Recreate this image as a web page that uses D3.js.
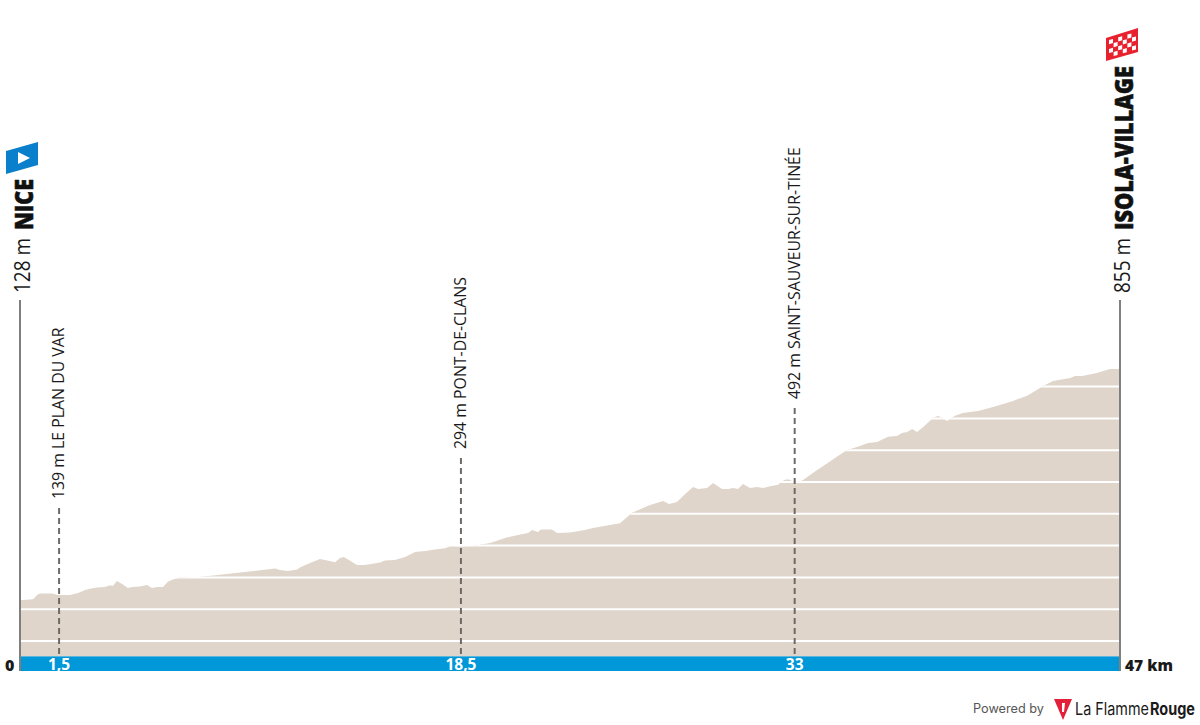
<!DOCTYPE html>
<html>
<head>
	<meta charset="UTF-8">
	<title>Nice - Isola-Village</title>
	<script src="https://cdn.jsdelivr.net/npm/d3@7"></script>
	<style>
		html, body { margin: 0; padding: 0; background: #fff; }
		svg { display: block; }
		text { font-family: "Open Sans", sans-serif; }
	</style>
</head>
<body>
	<script type="text/javascript">
		// profile
		var km = [0, .56, .73, .85, 1.37, 1.62, 2.14, 2.48, 2.78, 2.99, 3.29, 3.63, 3.85, 3.97, 4.14, 4.36, 4.61, 4.79, 5.13, 5.43, 5.64, 5.85, 6.11, 6.32, 6.5, 6.84, 7.35, 7.69,
			10.9, 11.11, 11.45, 11.84, 11.96, 12.39, 12.82, 13.03, 13.46, 13.67, 13.84, 14.1, 14.4, 14.74, 15.38, 15.6, 16.02, 16.45, 16.88, 17.31, 17.73, 18.16, 18.42, 18.8,
			19.36, 19.66, 20.08, 20.38, 20.72, 21.37, 21.71, 21.88, 22.13, 22.26, 22.73, 22.95, 23.5, 24.14, 24.48, 24.78, 25.64, 26.15, 26.92, 27.48, 27.73, 28.07, 28.42, 28.76,
			28.97, 29.36, 29.61, 30, 30.25, 30.47, 30.68, 30.89, 31.19, 31.49, 31.75, 32.05, 32.39, 32.65, 32.82, 32.99, 33.24, 33.46, 34.06, 34.7, 34.95, 35.34, 35.76, 36.24,
			36.62, 37.09, 37.47, 37.69, 37.9, 38.12, 38.33, 38.59, 39.01, 39.23, 39.61, 39.95, 40.29, 40.93, 41.58, 42.43, 43.03, 43.8, 44.14, 44.87, 45.08, 45.38, 46.02, 46.57, 47];
		var elevation = [128, 131, 145, 149, 149, 145, 145, 151, 160, 164, 168, 170, 175, 173, 189, 179, 167, 170, 171, 176, 167, 170, 170, 186, 193, 200, 201, 201,
			228, 223, 220, 225, 231, 245, 258, 255, 248, 261, 264, 252, 239, 239, 247, 253, 255, 264, 280, 283, 288, 292, 299, 296,
			299, 303, 308, 315, 324, 335, 340, 349, 343, 351, 351, 340, 341, 349, 355, 359, 370, 403, 428, 440, 431, 437, 462, 484,
			478, 481, 497, 478, 478, 481, 478, 494, 481, 484, 481, 487, 491, 506, 509, 503, 500, 506, 538, 569, 582, 601, 610, 623,
			626, 642, 645, 654, 657, 667, 657, 673, 701, 708, 692, 708, 717, 723, 736, 755, 771, 805, 818, 827, 833, 833, 843, 855, 855];

		var gridLevels = [0, 100, 200, 300, 400, 500, 600, 700, 800];

		// intermediate places: where the mark sits, what the band says, what the label says
		var placeKm = [1.67, 18.84, 33.1];
		var placeTicks = ["1,5", "18,5", "33"];
		var placeNames = ["139 m LE PLAN DU VAR", "294 m PONT-DE-CLANS", "492 m SAINT-SAUVEUR-SUR-TINÉE"];

		var startLabel = ["128 m", "NICE"];
		var finishLabel = ["855 m", "ISOLA-VILLAGE"];

		var W = 1200, H = 725;
		var floorY = 656, bandBottom = 671, axisTop = 300;

		var x = d3.scaleLinear().domain([0, 47]).range([20, 1120]);
		var y = d3.scaleLinear().domain([0, 800]).range([641, 386.6]);

		var canvas = d3.select("body")
			.append("svg")
			.attr("width", W)
			.attr("height", H);

		var profile = d3.area()
			.x(function (d) { return x(d); })
			.y0(floorY)
			.y1(function (d, i) { return y(elevation[i]); });

		// terrain
		canvas.append("path")
			.datum(km)
			.attr("d", profile)
			.attr("fill", "#dfd5cb");

		// gridlines only show inside the terrain
		canvas.append("clipPath")
			.attr("id", "terrain")
			.append("path")
			.datum(km)
			.attr("d", profile);

		canvas.append("g")
			.attr("clip-path", "url(#terrain)")
			.selectAll("line")
			.data(gridLevels)
			.enter().append("line")
			.attr("x1", x(0))
			.attr("x2", x(47))
			.attr("y1", function (d) { return y(d); })
			.attr("y2", function (d) { return y(d); })
			.attr("stroke", "#fff")
			.attr("stroke-width", 2);

		// km band
		canvas.append("rect")
			.attr("x", x(0))
			.attr("y", floorY)
			.attr("width", x(47) - x(0))
			.attr("height", bandBottom - floorY)
			.attr("fill", "#0098d8");
		canvas.append("line")
			.attr("x1", x(0)).attr("x2", x(47))
			.attr("y1", floorY + .5).attr("y2", floorY + .5)
			.attr("stroke", "#5cb6dc");

		// start and finish posts
		canvas.selectAll(".post")
			.data([0, 47])
			.enter().append("line")
			.attr("class", "post")
			.attr("x1", function (d) { return x(d); })
			.attr("x2", function (d) { return x(d); })
			.attr("y1", axisTop)
			.attr("y2", bandBottom)
			.attr("stroke", "#7f7f7f")
			.attr("stroke-width", 2);

		// dashed place marks
		var markTops = [508, 458, 408];
		canvas.selectAll(".mark")
			.data(placeKm)
			.enter().append("line")
			.attr("class", "mark")
			.attr("x1", function (d) { return x(d); })
			.attr("x2", function (d) { return x(d); })
			.attr("y1", function (d, i) { return markTops[i]; })
			.attr("y2", floorY)
			.attr("stroke", "#6f6a66")
			.attr("stroke-width", 2)
			.attr("stroke-dasharray", "6 4");

		canvas.selectAll(".place")
			.data(placeNames)
			.enter().append("text")
			.attr("class", "place")
			.attr("transform", function (d, i) { return "translate(" + (x(placeKm[i]) + 5) + "," + (markTops[i] - 9) + ") rotate(-90)"; })
			.attr("font-size", 15.85)
			.attr("fill", "#1a1a1a")
			.text(function (d) { return d; });

		// band labels
		canvas.selectAll(".tick")
			.data(placeTicks)
			.enter().append("text")
			.attr("class", "tick")
			.attr("x", function (d, i) { return x(placeKm[i]); })
			.attr("y", 669.5)
			.attr("text-anchor", "middle")
			.attr("font-size", 15.5)
			.attr("font-weight", 700)
			.attr("fill", "#fff")
			.text(function (d) { return d; });

		canvas.append("text")
			.attr("x", 5).attr("y", 671)
			.attr("font-size", 16).attr("font-weight", 800).attr("fill", "#1a1a1a")
			.text("0");
		canvas.append("text")
			.attr("x", 1125).attr("y", 671)
			.attr("font-size", 15.5).attr("font-weight", 800).attr("fill", "#1a1a1a")
			.text("47 km");

		// start and finish labels
		function endLabel(km, parts, nameLength) {
			canvas.append("text")
				.attr("transform", "translate(" + (x(km) + 10) + ",293) rotate(-90)")
				.attr("font-size", 21.5)
				.attr("textLength", 55)
				.attr("lengthAdjust", "spacingAndGlyphs")
				.attr("fill", "#1a1a1a")
				.text(parts[0]);
			canvas.append("text")
				.attr("transform", "translate(" + (x(km) + 13) + ",230) rotate(-90)")
				.attr("font-size", 24)
				.attr("font-weight", 800)
				.attr("textLength", nameLength)
				.attr("lengthAdjust", "spacingAndGlyphs")
				.attr("fill", "#111")
				.attr("stroke", "#111")
				.attr("stroke-width", .6)
				.text(parts[1]);
		}
		endLabel(0, startLabel, 51);
		endLabel(47, finishLabel, 164);

		// start flag
		canvas.append("polygon")
			.attr("points", "6,151 38,142 38,165 6,174")
			.attr("fill", "#0a7fcb");
		canvas.append("polygon")
			.attr("points", "18,152 30,158 18,164")
			.attr("fill", "#fff");

		// finish flag, chequered
		var flagCols = d3.range(6), flagRows = d3.range(4);
		var flag = canvas.append("g").attr("transform", "translate(1106,38)");
		flag.append("polygon")
			.attr("points", "0,0 32,-10 32,14 0,23")
			.attr("fill", "#e8212f");
		flagCols.forEach(function (c) {
			flagRows.forEach(function (r) {
				if ((c + r) % 2) return;
				var cx = 3 + c * 4.6, cy = 3 - cx * .3 + r * 4.4;
				flag.append("polygon")
					.attr("points", [[cx, cy], [cx + 4, cy - 1.2], [cx + 4, cy + 3], [cx, cy + 4.2]].join(" "))
					.attr("fill", "#fff");
			});
		});

		// credit, squeezed sideways to the width of the logo lettering
		function creditText(str, left, base, size, weight, colour, width) {
			var t = canvas.append("text")
				.style("font-family", "Inter")
				.attr("font-size", size)
				.attr("font-weight", weight)
				.attr("fill", colour)
				.text(str);
			var squeeze = width / t.node().getComputedTextLength();
			t.attr("transform", "translate(" + left + "," + base + ") scale(" + squeeze + ",1)");
		}
		creditText("Powered by", 973, 713, 12.8, 400, "#555", 71);
		canvas.append("polygon")
			.attr("points", "1054,699 1072,699 1063,720")
			.attr("fill", "#e2203a");
		canvas.append("polygon")
			.attr("points", "1062,703 1065,703 1064,712 1062,712")
			.attr("fill", "#fff");
		creditText("La Flamme", 1075, 715, 17, 400, "#1a1a1a", 74);
		creditText("Rouge", 1150, 715, 17, 700, "#1a1a1a", 45);
	</script>
</body>
</html>
